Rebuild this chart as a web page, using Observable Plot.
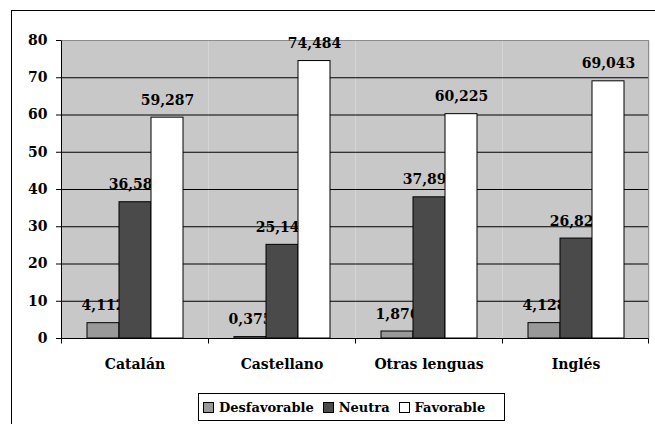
<!DOCTYPE html>
<html><head><meta charset="utf-8">
<script src="https://cdn.jsdelivr.net/npm/d3@7"></script>
<script src="https://cdn.jsdelivr.net/npm/@observablehq/plot@0.6"></script>
<style>
html,body{margin:0;padding:0;width:655px;height:424px;overflow:hidden;background:#fff;}
#wrap{position:relative;width:655px;height:424px;overflow:hidden;}
#chart{position:absolute;left:0;top:0;}
#outer{position:absolute;left:11px;top:10px;width:700px;height:500px;border:1px solid #000;box-sizing:border-box;pointer-events:none;}
#legend{position:absolute;left:198px;top:393px;height:28px;width:307px;box-sizing:border-box;border:1px solid #000;background:#fff;
  display:flex;align-items:center;padding-left:4px;font-family:"DejaVu Serif";font-weight:bold;font-size:13px;letter-spacing:0px;color:#000;}
#legend .item{display:flex;align-items:center;margin-right:9px;}
#legend .sw{width:11px;height:11px;border:1px solid #000;box-sizing:border-box;margin-right:5px;}
</style></head>
<body><div id="wrap"><div id="chart"></div><div id="outer"></div><div id="legend"></div></div>
<script>
const categories = ["Catalán", "Castellano", "Otras lenguas", "Inglés"];
const series = ["Desfavorable", "Neutra", "Favorable"];
const desfavorable = [4.112, 0.375, 1.876, 4.128];
const neutra = [36.585, 25.141, 37.899, 26.829];
const favorable = [59.287, 74.484, 60.225, 69.043];
const yTicks = [0, 10, 20, 30, 40, 50, 60, 70, 80];
const colors = ["#999999", "#4a4a4a", "#ffffff"];

const valuesBySeries = [desfavorable, neutra, favorable];
const rows = [];
series.forEach((s, i) => categories.forEach((c, j) => rows.push({cat: c, series: s, value: valuesBySeries[i][j]})));
const fmt = d => d.value.toFixed(3).replace(".", ",");
const font = "DejaVu Serif";

const seriesMarks = series.flatMap(s => {
  const d = rows.filter(r => r.series === s);
  return [
    Plot.barY(d, {fx: "cat", x: "series", y: "value", fill: "series", stroke: "#000", strokeWidth: 1}),
    Plot.text(d, {fx: "cat", x: "series", y: "value", text: fmt, dy: -13, lineAnchor: "bottom", fontSize: 14, fontWeight: "bold", fill: "#000"})
  ];
});

const plot = Plot.plot({
  width: 655, height: 385,
  marginLeft: 60, marginRight: 6, marginTop: 40, marginBottom: 47,
  style: {fontFamily: font, background: "transparent", color: "#000"},
  fx: {domain: categories, padding: 0, label: null},
  x: {domain: series, paddingInner: 0, paddingOuter: 0.75, axis: null},
  y: {domain: [0, 80], label: null},
  color: {domain: series, range: colors},
  marks: [
    Plot.frame({fill: "#c8c8c8"}),
    Plot.ruleY(yTicks.filter(v => v > 0 && v < 80), {stroke: "#000"}),
    Plot.ruleY([80], {stroke: "#8c8c8c"}),
    ...seriesMarks,
    Plot.ruleY([0], {stroke: "#000"}),
    Plot.axisY({ticks: yTicks, tickSize: 5, tickPadding: 9, fontSize: 14, fontWeight: "bold", tickFormat: d => String(d), label: null, stroke: "#000"}),
    Plot.axisFx({anchor: "bottom", tickSize: 0, tickPadding: 21, fontSize: 14, fontWeight: "bold", label: null})
  ]
});
document.getElementById("chart").appendChild(plot);

// axis decorations derived from the plot's scales
const fxS = plot.scale("fx"), yS = plot.scale("y");
const svg = d3.select(plot);
const y0 = Math.round(yS.apply(0)) + 0.5, yTop = Math.round(yS.apply(80)) + 0.5;
const edges = categories.map(c => fxS.apply(c));
edges.push(fxS.apply(categories[categories.length - 1]) + fxS.bandwidth);
const xr = Math.round(edges[edges.length - 1]) - 0.5;
svg.append("line").attr("x1", xr).attr("x2", xr).attr("y1", yTop).attr("y2", y0).attr("stroke", "#8c8c8c");
edges.forEach((x, i) => {
  const xx = i === edges.length - 1 ? xr : Math.round(x) + 0.5;
  svg.append("line").attr("x1", xx).attr("x2", xx).attr("y1", i === 0 ? yTop : y0).attr("y2", y0 + 5).attr("stroke", "#000");
});

// legend
const legend = d3.select("#legend");
series.forEach((s, i) => {
  const it = legend.append("div").attr("class", "item");
  it.append("div").attr("class", "sw").style("background", colors[i]);
  it.append("span").text(s);
});
</script>
</body></html>
